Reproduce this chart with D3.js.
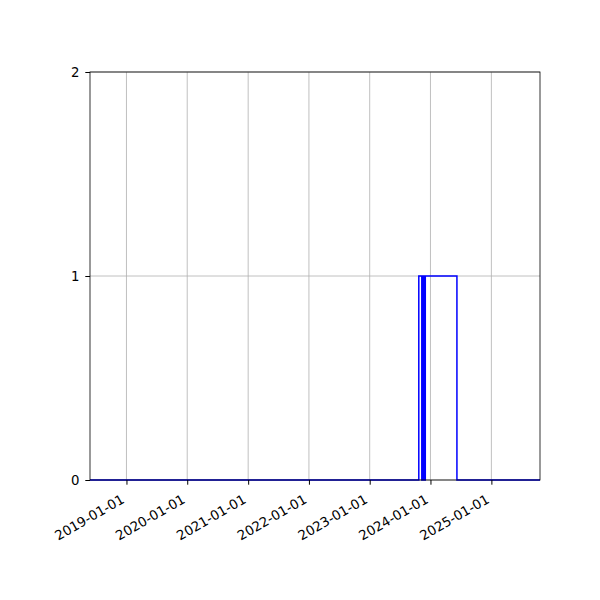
<!DOCTYPE html>
<html>
<head>
<meta charset="utf-8">
<script src="https://cdn.jsdelivr.net/npm/d3@7"></script>
<style>
body { margin: 0; background: #fff; }
text { font-family: "DejaVu Sans", sans-serif; }
</style>
</head>
<body>
<div id="chart"></div>
<script>
// step data (value holds until next date)
let dates = ["2018-05-27", "2023-10-23", "2023-11-10", "2023-11-13", "2023-11-16", "2023-11-19",
             "2023-11-22", "2023-11-25", "2023-11-28", "2023-12-01", "2024-06-08", "2025-10-20"];
let values = [0, 1, 0, 1, 0, 1, 0, 1, 0, 1, 0, 0];
let xTicks = ["2019-01-01", "2020-01-01", "2021-01-01", "2022-01-01", "2023-01-01", "2024-01-01", "2025-01-01"];
let yTicks = [0, 1, 2];
let xRange = ["2018-05-27", "2025-10-20"];

let width = 600, height = 600,
    margin = {top: 72, right: 60, bottom: 120, left: 90};

let parse = d3.utcParse("%Y-%m-%d");
let data = dates.map(function (d, i) { return {date: parse(d), value: values[i]}; });

let x = d3.scaleUtc()
    .domain(xRange.map(parse))
    .range([margin.left, width - margin.right]);
let y = d3.scaleLinear()
    .domain([0, 2])
    .range([height - margin.bottom, margin.top]);

let svg = d3.select("#chart").append("svg")
    .attr("width", width)
    .attr("height", height);

// grid
svg.append("g").selectAll("line")
    .data(xTicks.map(parse)).enter()
    .append("line")
    .attr("x1", function (d) { return x(d); })
    .attr("x2", function (d) { return x(d); })
    .attr("y1", margin.top)
    .attr("y2", height - margin.bottom)
    .attr("stroke", "#b0b0b0")
    .attr("stroke-width", 0.8);
svg.append("g").selectAll("line")
    .data(yTicks).enter()
    .append("line")
    .attr("x1", margin.left)
    .attr("x2", width - margin.right)
    .attr("y1", function (d) { return y(d); })
    .attr("y2", function (d) { return y(d); })
    .attr("stroke", "#b0b0b0")
    .attr("stroke-width", 0.8);

// step line
let line = d3.line()
    .x(function (d) { return x(d.date); })
    .y(function (d) { return y(d.value); })
    .curve(d3.curveStepAfter);
svg.append("path")
    .datum(data)
    .attr("d", line)
    .attr("fill", "none")
    .attr("stroke", "#0000ff")
    .attr("stroke-width", 1.5);

// axes
let xAxis = svg.append("g")
    .attr("transform", "translate(0," + (height - margin.bottom) + ")")
    .call(d3.axisBottom(x)
        .tickValues(xTicks.map(parse))
        .tickFormat(d3.utcFormat("%Y-%m-%d"))
        .tickSize(4.7)
        .tickPadding(4.7));
xAxis.select(".domain").remove();
xAxis.selectAll("text")
    .attr("font-size", "13.3px")
    .attr("fill", "#000")
    .attr("text-anchor", "end")
    .attr("x", -4)
    .attr("y", 18)
    .attr("dy", "0.35em")
    .attr("transform", "rotate(-30,-4,18)");

let yAxis = svg.append("g")
    .attr("transform", "translate(" + margin.left + ",0)")
    .call(d3.axisLeft(y)
        .tickValues(yTicks)
        .tickFormat(d3.format("d"))
        .tickSize(4.7)
        .tickPadding(5.8));
yAxis.select(".domain").remove();
yAxis.selectAll("text")
    .attr("font-size", "13.3px")
    .attr("fill", "#000");

// frame
svg.append("rect")
    .attr("x", margin.left)
    .attr("y", margin.top)
    .attr("width", width - margin.left - margin.right)
    .attr("height", height - margin.top - margin.bottom)
    .attr("fill", "none")
    .attr("stroke", "#000")
    .attr("stroke-width", 0.8);
</script>
</body>
</html>
